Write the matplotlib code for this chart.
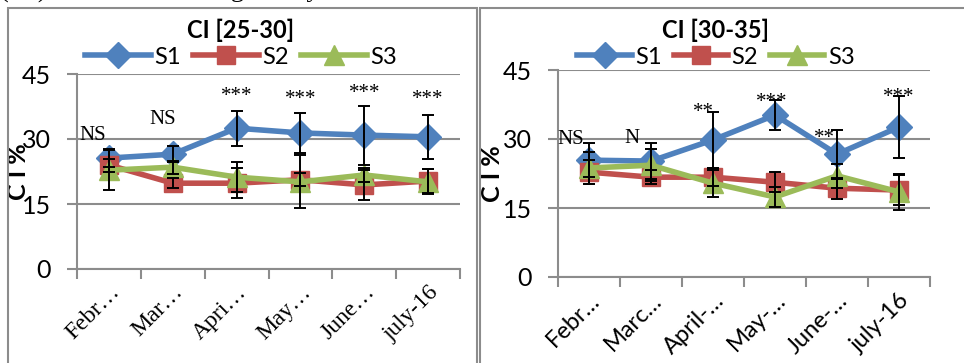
import numpy as np
import matplotlib
matplotlib.use("Agg")
import matplotlib.pyplot as plt
from matplotlib.patches import Rectangle

months_left = ["Febr…", "Mar…", "Apri…", "May…", "June…", "july-16"]
months_right = ["Febr…", "Marc…", "April-…", "May-…", "June-…", "july-16"]

# CI [25-30]
s1_a = [25.6, 26.5, 32.5, 31.4, 30.9, 30.5]
s2_a = [24.0, 19.8, 19.8, 20.6, 19.4, 20.3]
s3_a = [22.8, 23.5, 21.2, 20.1, 21.7, 20.1]
e1_a = [2.0, 1.9, 4.0, 4.7, 6.8, 5.0]
e2_a = [1.5, 1.2, 3.4, 1.5, 3.5, 2.8]
e3_a = [4.6, 1.5, 3.5, 6.1, 1.6, 2.9]
sig_a = ["NS", "NS", "***", "***", "***", "***"]

# CI [30-35]
s1_b = [25.4, 25.2, 29.8, 35.2, 26.7, 32.6]
s2_b = [22.8, 21.7, 21.7, 20.6, 19.3, 18.9]
s3_b = [23.7, 24.3, 20.4, 17.4, 22.0, 18.5]
e1_b = [3.7, 3.9, 6.0, 3.2, 5.3, 6.8]
e2_b = [2.6, 1.5, 2.0, 2.2, 2.3, 3.3]
e3_b = [3.5, 3.5, 2.9, 2.2, 2.6, 3.9]
sig_b = ["NS", "N", "**", "***", "**", "***"]

W, H = 964, 363
fig = plt.figure(figsize=(W / 100, H / 100), dpi=100)

colors = ["#4F81BD", "#C0504D", "#9BBB59"]
markers = ["D", "s", "^"]
msizes = [13, 13, 15]
grid_c = "#8c8c8c"
sans = "Lato"
serif = "Liberation Serif"


def px(l, t, r, b):
    return [l / W, (H - b) / H, (r - l) / W, (b - t) / H]


# panel frames
for l, r in [(8, 477), (480, 966)]:
    fig.patches.append(Rectangle((l / W, -0.05), (r - l) / W, (H - 8) / H + 0.05,
                                 transform=fig.transFigure, fill=False,
                                 edgecolor="#8c8c8c", linewidth=1.5))

# sentence of the surrounding page, cut by the crop
fig.text(0.0, 1.0 + 9 / H, "(±S).   The total averages vary between the S3 series and S1 series in",
         family=serif, fontsize=19, ha="left", va="center", color="black")


def panel(rect, title, labels, series, errs, sig, sig_y, sig_dx, xfont, cx, hlen, ylab_pos):
    ax = fig.add_axes(rect)
    x = np.arange(len(labels))
    for i, vals in enumerate(series):
        ax.plot(x, vals, color=colors[i], marker=markers[i], markersize=msizes[i],
                linewidth=4, label="S%d" % (i + 1), zorder=3 + i)
    for vals, err in zip(series, errs):
        ax.errorbar(x, vals, yerr=err, fmt="none", ecolor="black", elinewidth=1.4,
                    capsize=4.5, capthick=1.4, zorder=7)
    for xi, s, yy, dx in zip(x, sig, sig_y, sig_dx):
        ax.text(xi + dx, yy, s, family=serif, fontsize=15, ha="center", va="center", zorder=8)
    ax.set_xlim(-0.5, len(labels) - 0.5)
    ax.set_ylim(0, 45)
    ax.set_yticks([0, 15, 30, 45])
    ax.yaxis.grid(True, color=grid_c, linewidth=1.5)
    ax.set_axisbelow(True)
    for s in ["top", "right"]:
        ax.spines[s].set_visible(False)
    for s in ["left", "bottom"]:
        ax.spines[s].set_color(grid_c)
        ax.spines[s].set_linewidth(1.5)
    ax.tick_params(axis="y", length=7, width=1.5, color=grid_c, labelsize=18, pad=12)
    for t in ax.get_yticklabels():
        t.set_family(sans)
    ax.set_xticks(np.arange(-0.5, len(labels)))
    ax.set_xticklabels([])
    ax.set_xticks(x, minor=True)
    ax.set_xticklabels(labels, minor=True, rotation=45, ha="right", rotation_mode="anchor",
                       family=xfont, fontsize=17)
    ax.tick_params(axis="x", which="major", length=7, width=1.5, color=grid_c)
    ax.tick_params(axis="x", which="minor", length=0, pad=9)
    ax.set_ylabel("C I %", family=sans, fontweight="bold", fontsize=18)
    ax.yaxis.set_label_coords(*ylab_pos)
    fig.text(cx / W, 1 - 30 / H, title, family=sans, fontweight="bold", fontsize=17,
             ha="center", va="center")
    ax.legend(loc="center", bbox_to_anchor=(cx / W, 1 - 57 / H), bbox_transform=fig.transFigure,
              ncol=3, frameon=False, prop={"family": sans, "size": 17}, handlelength=hlen,
              columnspacing=0.5, handletextpad=0.15, borderaxespad=0, borderpad=0)
    return ax


panel(px(77, 74, 460, 269), "CI [25-30]", months_left, [s1_a, s2_a, s3_a],
      [e1_a, e2_a, e3_a], sig_a, [30.8, 34.5, 39.8, 39.2, 40.5, 39.2],
      [-0.25, -0.15, 0, 0, 0, 0], serif, 241, 2.8, (-0.122, 0.5))
panel(px(558, 70, 930, 277), "CI [30-35]", months_right, [s1_b, s2_b, s3_b],
      [e1_b, e2_b, e3_b], sig_b, [29.8, 30.0, 35.8, 38.0, 30.0, 39.0],
      [-0.3, -0.3, -0.15, -0.05, -0.2, 0], sans, 716, 2.3, (-0.145, 0.5))

fig.savefig("out.png", dpi=100)
